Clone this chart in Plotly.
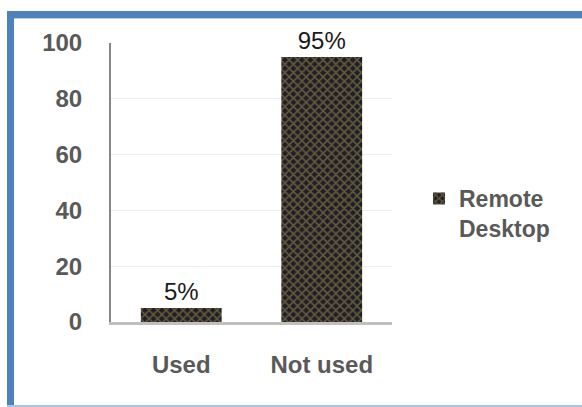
import plotly.graph_objects as go

categories = ["Used", "Not used"]
values = [5, 95]
labels = ["5%", "95%"]
series_name = "Remote<br>Desktop"
y_ticks = [0, 20, 40, 60, 80, 100]

W, H = 582, 407
L, R, T, B = 111, 392, 43, 322

def px(x):
    return (x - L) / (R - L)

def py(y):
    return (B - y) / (B - T)

fig = go.Figure()
fig.add_trace(go.Bar(
    x=categories, y=values, name=series_name,
    text=labels, textposition="outside", cliponaxis=False,
    textfont=dict(family="Liberation Sans", size=24, color="#1a1a1a"),
    marker=dict(color="#1e1e28", line=dict(width=0),
                pattern=dict(shape="x", fgcolor="#ad954c", bgcolor="#1e1e28",
                             size=6, solidity=0.45)),
    showlegend=True,
))

shapes = [
    dict(type="rect", xref="paper", yref="paper", x0=px(7), x1=px(14), y0=py(407), y1=py(11),
         fillcolor="#4f81bd", line=dict(width=0), layer="above"),
    dict(type="rect", xref="paper", yref="paper", x0=px(7), x1=px(582), y0=py(18), y1=py(11),
         fillcolor="#4f81bd", line=dict(width=0), layer="above"),
    dict(type="rect", xref="paper", yref="paper", x0=px(14), x1=px(582), y0=py(19), y1=py(18),
         fillcolor="#b7cde9", line=dict(width=0), layer="above"),
    dict(type="rect", xref="paper", yref="paper", x0=px(7), x1=px(582), y0=py(407), y1=py(405),
         fillcolor="#a9c4e8", line=dict(width=0), layer="above"),
]

fig.update_layout(
    width=W, height=H,
    margin=dict(l=L, r=W - R, t=T, b=H - B),
    paper_bgcolor="white", plot_bgcolor="white",
    bargap=0.425,
    shapes=shapes,
    showlegend=True,
    legend=dict(x=px(419), y=py(177), xanchor="left", yanchor="top", valign="top",
                font=dict(family="Liberation Sans", size=23, color="#595959", weight="bold"),
                itemwidth=30, bgcolor="rgba(0,0,0,0)"),
    xaxis=dict(showgrid=False, showline=True, linecolor="#bfbfbf", linewidth=3,
               ticks="", ticklabelstandoff=19,
               tickfont=dict(family="Liberation Sans", size=24,
                             color="#595959", weight="bold")),
    yaxis=dict(range=[0, 100], tickvals=y_ticks, showgrid=True, gridcolor="#eeeeee",
               gridwidth=1, zeroline=False, showline=True, linecolor="#868686", linewidth=2,
               ticks="", ticklabelstandoff=22,
               tickfont=dict(family="Liberation Sans", size=24, color="#595959", weight="bold")),
)

fig.write_html("out.html")
